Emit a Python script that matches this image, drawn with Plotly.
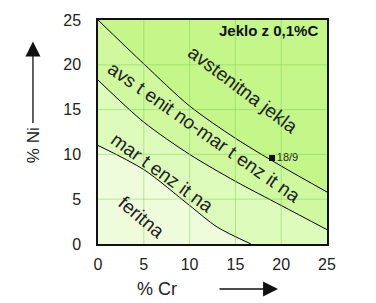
import plotly.graph_objects as go

# boundary curves (Cr %, Ni %)
c1_cr = [0, 5, 10, 15, 20, 25]
c1_ni = [25, 20.1, 15.4, 11.8, 8.7, 5.8]
c2_cr = [0, 5, 10, 15, 20, 25]
c2_ni = [18.3, 13.6, 10.0, 7.0, 4.3, 1.6]
c3_cr = [0, 5, 10, 13, 16.7]
c3_ni = [11.0, 8.3, 4.3, 1.9, 0]

region_labels = ["avstenitna jekla", "avs t enit no-mar t enz it na", "mar t enz it na", "feritna"]
label_cr = [15.8, 11.6, 7.0, 4.8]
label_ni = [17.2, 12.4, 8.0, 3.0]
label_angle = [37, 35, 36, 40]

point_cr = [19.0]
point_ni = [9.6]
point_text = ["18/9"]

ticks = [0, 5, 10, 15, 20, 25]

col_A = "#c4f68a"
col_B = "#cff89f"
col_C = "#ddfbbb"
col_D = "#eefcdc"

fig = go.Figure()
for xs, ys, col in [(c1_cr, c1_ni, col_B), (c2_cr, c2_ni, col_C), (c3_cr, c3_ni, col_D)]:
    fig.add_trace(go.Scatter(x=xs, y=ys, mode="lines", fill="tozeroy", fillcolor=col,
                             line=dict(color="black", width=1, shape="spline", smoothing=0.8),
                             hoverinfo="skip", showlegend=False))

fig.add_trace(go.Scatter(x=point_cr, y=point_ni, mode="markers+text", text=point_text,
                         textposition="middle right",
                         textfont=dict(family="Liberation Sans, Arial", size=11, color="#222"),
                         marker=dict(symbol="square", size=6, color="#111"),
                         showlegend=False, hoverinfo="skip"))

grid_col = "rgba(120,205,70,0.45)"
shapes = []
for t in ticks[1:-1]:
    shapes.append(dict(type="line", xref="x", yref="y", x0=t, x1=t, y0=0, y1=25,
                       line=dict(color=grid_col, width=1), layer="above"))
    shapes.append(dict(type="line", xref="x", yref="y", x0=0, x1=25, y0=t, y1=t,
                       line=dict(color=grid_col, width=1), layer="above"))

annotations = []
for txt, x, y, a in zip(region_labels, label_cr, label_ni, label_angle):
    annotations.append(dict(x=x, y=y, xref="x", yref="y", text=txt, showarrow=False,
                            textangle=a, font=dict(family="Liberation Sans, Arial", size=19, color="#222")))

annotations.append(dict(x=0.969, y=0.952, xref="paper", yref="paper", text="<b>Jeklo z 0,1%C</b>",
                        showarrow=False, xanchor="right", yanchor="middle",
                        font=dict(family="Liberation Sans, Arial", size=15, color="#111")))
# axis titles
annotations.append(dict(x=0.258, y=-0.2009, xref="paper", yref="paper", text="% Cr", showarrow=False,
                        xanchor="center", yanchor="middle",
                        font=dict(family="Liberation Sans, Arial", size=18, color="#222")))
annotations.append(dict(x=-0.284, y=0.441, xref="paper", yref="paper", text="% Ni", showarrow=False,
                        xanchor="center", yanchor="middle",
                        textangle=-90, font=dict(family="Liberation Sans, Arial", size=17, color="#222")))
# arrows
annotations.append(dict(x=0.786, y=-0.2009, xref="paper", yref="paper", text="", showarrow=True,
                        ax=-60, ay=0, arrowhead=2, arrowsize=2.3, arrowwidth=1.3, arrowcolor="#111"))
annotations.append(dict(x=-0.284, y=0.904, xref="paper", yref="paper", text="", showarrow=True,
                        ax=0, ay=83, arrowhead=2, arrowsize=2.3, arrowwidth=1.3, arrowcolor="#111"))

axis_common = dict(range=[0, 25], tickvals=ticks, showgrid=False, zeroline=False,
                   showline=True, linecolor="#111", linewidth=1.5, mirror=True,
                   tickfont=dict(family="Liberation Sans, Arial", size=16, color="#222"),
                   fixedrange=True)

fig.update_layout(
    width=376, height=303,
    margin=dict(l=98, r=49, t=15, b=59),
    paper_bgcolor="white", plot_bgcolor=col_A,
    xaxis=dict(**axis_common, ticklabelstandoff=5),
    yaxis=dict(**axis_common, ticklabelstandoff=12),
    shapes=shapes, annotations=annotations,
)

fig.write_html("out.html")
